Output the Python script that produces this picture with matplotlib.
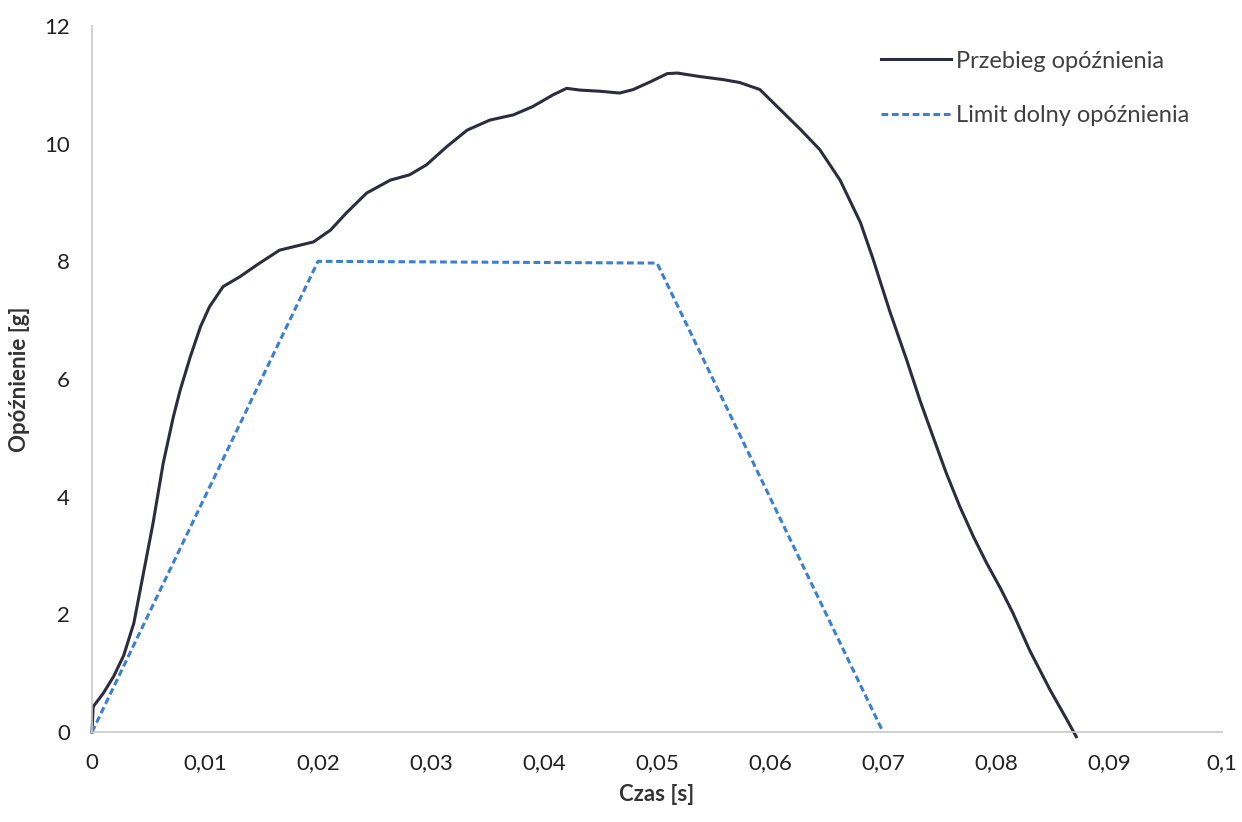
import matplotlib
matplotlib.use('Agg')
import matplotlib.pyplot as plt
from matplotlib.ticker import FuncFormatter

# deceleration curve (time [s], deceleration [g])
czas = [0.0, 0.0001, 0.0010, 0.0019, 0.0028, 0.0037, 0.0045, 0.0054, 0.0063,
        0.0072, 0.0078, 0.0087, 0.0096, 0.0104, 0.0116, 0.0131, 0.0146, 0.0166,
        0.0196, 0.0211, 0.0225, 0.0243, 0.0264, 0.0281, 0.0296, 0.0314, 0.0332,
        0.0352, 0.0373, 0.0390, 0.0408, 0.0420, 0.0432, 0.0450, 0.0467, 0.0479,
        0.0494, 0.0509, 0.0518, 0.0538, 0.0558, 0.0573, 0.0591, 0.0609, 0.0627,
        0.0644, 0.0662, 0.0680, 0.0691, 0.0706, 0.0721, 0.0733, 0.0745, 0.0756,
        0.0768, 0.0780, 0.0792, 0.0804, 0.0815, 0.0830, 0.0848, 0.0863, 0.0871]
opoznienie = [0.0, 0.43, 0.66, 0.94, 1.30, 1.85, 2.65, 3.55, 4.57,
              5.36, 5.81, 6.38, 6.89, 7.23, 7.57, 7.74, 7.94, 8.19,
              8.33, 8.53, 8.82, 9.16, 9.38, 9.47, 9.64, 9.95, 10.23,
              10.40, 10.49, 10.63, 10.83, 10.94, 10.91, 10.89, 10.86, 10.92,
              11.05, 11.19, 11.20, 11.14, 11.09, 11.04, 10.92, 10.58, 10.24,
              9.90, 9.38, 8.66, 8.05, 7.15, 6.32, 5.62, 4.98, 4.40,
              3.83, 3.32, 2.86, 2.44, 2.02, 1.38, 0.71, 0.20, -0.08]

# lower limit
limit_czas = [0.0, 0.02, 0.05, 0.07]
limit_opoz = [0.0, 8.0, 7.97, 0.0]

plt.rcParams['font.family'] = ['Lato', 'DejaVu Sans']

fig = plt.figure(figsize=(12.42, 8.22), dpi=100)
ax = fig.add_axes([0.0741, 0.1095, 0.9098, 0.8589])

ax.plot(czas, opoznienie, color='#2b2d3c', lw=2.2, label='Przebieg opóźnienia',
        clip_on=False, solid_joinstyle='round')
ax.plot(limit_czas, limit_opoz, color='#3b7fd4', lw=2.2, ls=(0, (2.2, 1.2)),
        label='Limit dolny opóźnienia', clip_on=False)

ax.set_xlim(0, 0.1)
ax.set_ylim(0, 12)
ax.set_xticks([i / 100 for i in range(11)])
ax.set_yticks(range(0, 13, 2))

def comma(v, pos):
    s = ('%.2f' % v).rstrip('0').rstrip('.')
    return s.replace('.', ',')

ax.xaxis.set_major_formatter(FuncFormatter(comma))
ax.tick_params(length=0, labelsize=16, colors='#222222')
ax.tick_params(axis='x', pad=15)
ax.tick_params(axis='y', pad=16)

for side in ['top', 'right']:
    ax.spines[side].set_visible(False)
ax.spines['left'].set_color('#c8c8c8')
ax.spines['bottom'].set_color('#c8c8c8')
ax.spines['left'].set_linewidth(1.2)
ax.spines['bottom'].set_linewidth(1.2)

ax.set_xlabel('Czas [s]', fontsize=16, fontweight='bold', color='#333333', labelpad=8)
ax.set_ylabel('Opóźnienie [g]', fontsize=16, fontweight='bold', color='#333333', labelpad=10)

leg = ax.legend(loc='upper right', frameon=False, fontsize=17, handlelength=3,
                labelspacing=1.4, handletextpad=0.2, bbox_to_anchor=(0.99, 0.995))
for t in leg.get_texts():
    t.set_color('#404040')

plt.savefig('out.png', dpi=100)
